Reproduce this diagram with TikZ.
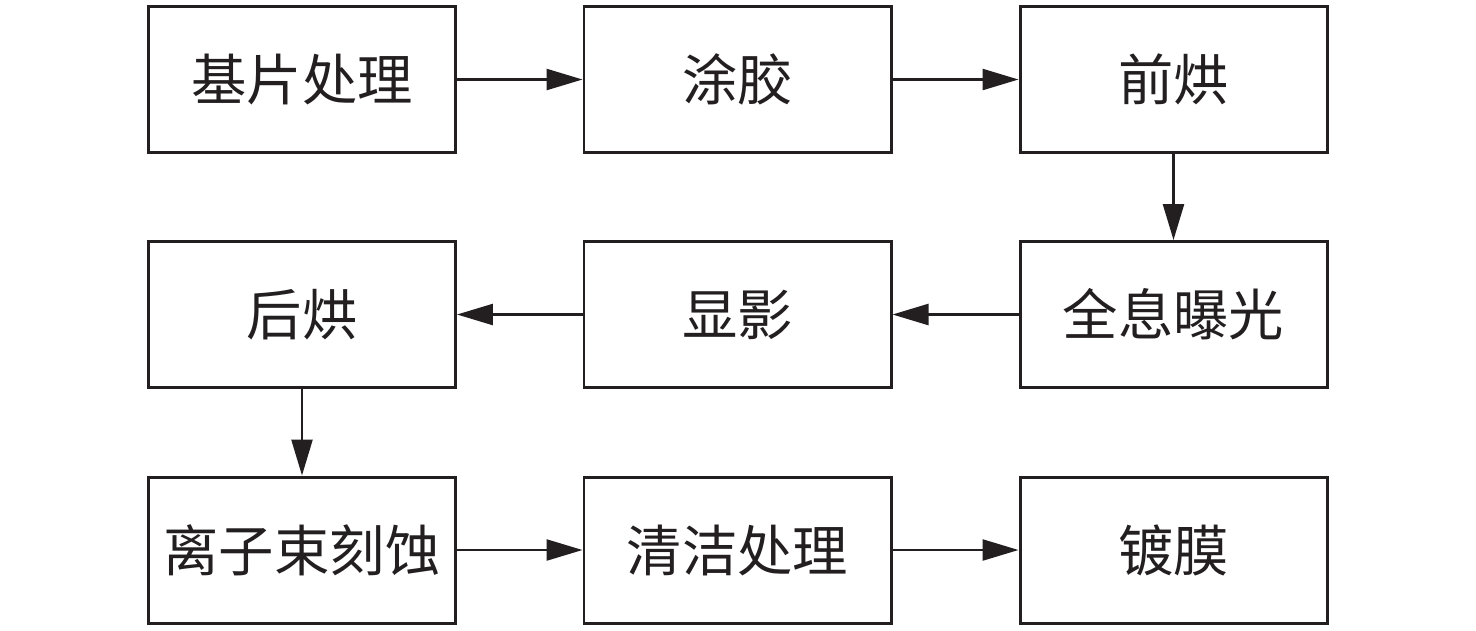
\documentclass[tikz,border=0pt]{standalone}
\usepackage{fontspec}
\setmainfont{Noto Sans CJK SC}
\usepackage{tikz}
\usetikzlibrary{arrows.meta}
\definecolor{ink}{HTML}{231F20}

\begin{document}
\begin{tikzpicture}[
    stepbox/.style={draw=ink, line width=1.7pt, minimum width=6.14cm, minimum height=2.92cm,
        inner sep=0pt, text=ink, font=\fontsize{31.5}{38}\selectfont},
    flow/.style={draw=ink, line width=1.4pt, -{Triangle[length=0.72cm,width=0.42cm]}}
]
    \useasboundingbox (0,0) rectangle (29.52,-12.6);
    \node[stepbox] (jp) at (6.04,-1.59) {基片处理};
    \node[stepbox] (tj) at (14.75,-1.59) {涂胶};
    \node[stepbox] (qh) at (23.47,-1.59) {前烘};
    \node[stepbox] (bg) at (23.47,-6.29) {全息曝光};
    \node[stepbox] (xy) at (14.75,-6.29) {显影};
    \node[stepbox] (hh) at (6.04,-6.29) {后烘};
    \node[stepbox] (ks) at (6.04,-11.0) {离子束刻蚀};
    \node[stepbox] (qj) at (14.75,-11.0) {清洁处理};
    \node[stepbox] (dm) at (23.47,-11.0) {镀膜};
    \draw[flow] (jp) -- (tj);
    \draw[flow] (tj) -- (qh);
    \draw[flow] (qh) -- (bg);
    \draw[flow] (bg) -- (xy);
    \draw[flow] (xy) -- (hh);
    \draw[flow] (hh) -- (ks);
    \draw[flow] (ks) -- (qj);
    \draw[flow] (qj) -- (dm);
\end{tikzpicture}
\end{document}
